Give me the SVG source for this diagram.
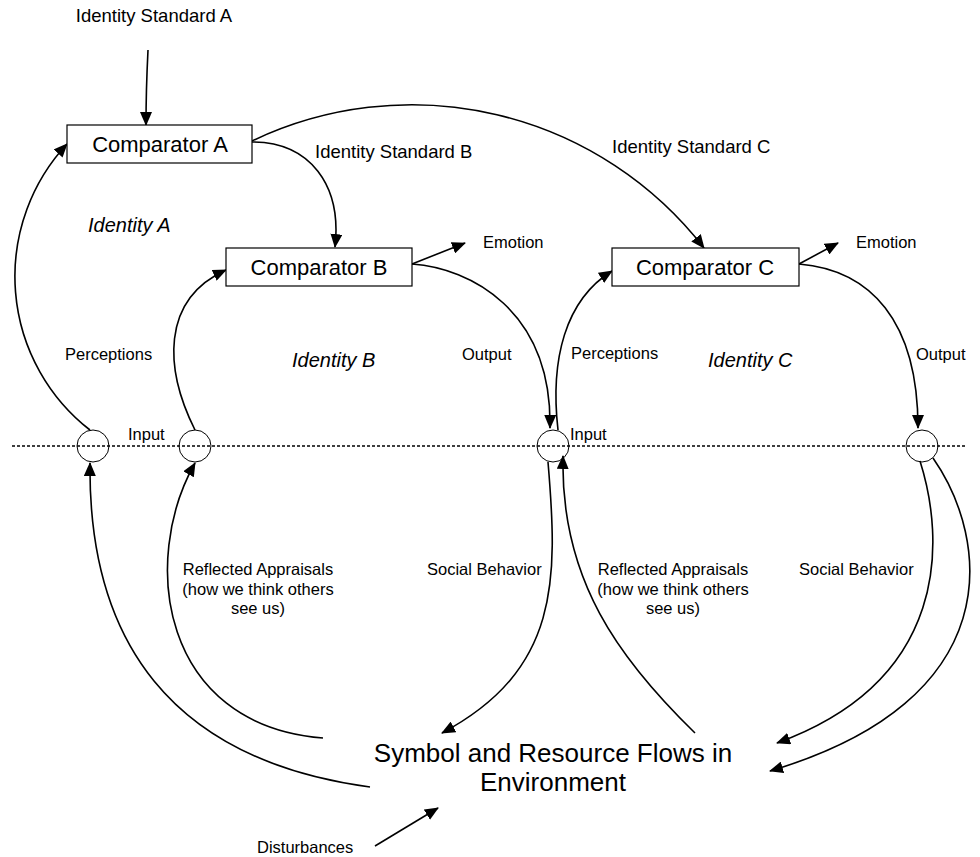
<svg xmlns="http://www.w3.org/2000/svg" width="980" height="857" viewBox="0 0 980 857">
<style>
text{font-family:"Liberation Sans",Arial,sans-serif;fill:#000}
.lbl{font-size:16.5px}
.std{font-size:18.5px}
.cmp{font-size:22px}
.idt{font-size:20px;font-style:italic}
.env{font-size:26px}
.box{fill:#fff;stroke:#000;stroke-width:1.2}
.node{fill:none;stroke:#000;stroke-width:1}
.c{fill:none;stroke:#000;stroke-width:1.6}
.a{marker-end:url(#ah)}
</style>
<defs>
<marker id="ah" viewBox="0 0 14 12" refX="13" refY="6" markerWidth="14" markerHeight="12" orient="auto" markerUnits="userSpaceOnUse">
<path d="M0,0 L14,6 L0,12 z" fill="#000"/>
</marker>
</defs>
<rect width="980" height="857" fill="#fff"/>
<line x1="12" y1="446" x2="967" y2="446" stroke="#000" stroke-width="1.3" stroke-dasharray="3,2"/>
<g id="connectors">
<path class="c a" d="M148,50 Q146,90 146,125"/>
<path class="c a" d="M252,142 C310,142 342,185 335,247"/>
<path class="c a" d="M252,141 A370,370 0 0 1 704,248"/>
<path class="c a" d="M412,264 L465,243"/>
<path class="c a" d="M799,264 L838,243"/>
<path class="c a" d="M90,430 A194.5,194.5 0 0 1 67,144"/>
<path class="c a" d="M195,430 C165,370 160,300 226,270"/>
<path class="c a" d="M412,264 C470,268 552,310 550,428"/>
<path class="c a" d="M558,430 C550,360 565,300 612,271"/>
<path class="c a" d="M799,264 C870,270 918,320 918,428"/>
<path class="c a" d="M548,462 C558,580 560,670 442,733"/>
<path class="c a" d="M695,733 C620,660 560,580 563,456"/>
<path class="c a" d="M370,787 C170,760 88,640 90,463"/>
<path class="c a" d="M323,738 C160,725 140,560 195,463"/>
<path class="c a" d="M920,461 C945,540 950,680 777,743"/>
<path class="c a" d="M933,458 C990,540 1010,700 770,771"/>
<path class="c a" d="M375,846 L438,808"/>
</g>
<g id="comparatorA"><rect class="box" x="67" y="125" width="185" height="38"/><text class="cmp" x="160" y="152" text-anchor="middle">Comparator A</text></g>
<g id="comparatorB"><rect class="box" x="226" y="248" width="186" height="38"/><text class="cmp" x="319" y="275" text-anchor="middle">Comparator B</text></g>
<g id="comparatorC"><rect class="box" x="612" y="248" width="187" height="38"/><text class="cmp" x="705" y="275" text-anchor="middle">Comparator C</text></g>
<g id="inputA"><circle class="node" cx="93" cy="446" r="16"/></g>
<g id="inputB"><circle class="node" cx="195" cy="446" r="16"/></g>
<g id="inputC"><circle class="node" cx="553" cy="446" r="16"/></g>
<g id="outputC"><circle class="node" cx="922" cy="446" r="16"/></g>
<g id="environment"><text class="env" x="553" y="762" text-anchor="middle">Symbol and Resource Flows in</text><text class="env" x="553" y="791" text-anchor="middle">Environment</text></g>
<g id="labels">
<text class="std" x="154" y="22" text-anchor="middle">Identity Standard A</text>
<text class="std" x="315" y="158">Identity Standard B</text>
<text class="std" x="612" y="153">Identity Standard C</text>
<text class="idt" x="88" y="232">Identity A</text>
<text class="idt" x="292" y="367">Identity B</text>
<text class="idt" x="708" y="367">Identity C</text>
<text class="lbl" x="483" y="248">Emotion</text>
<text class="lbl" x="856" y="248">Emotion</text>
<text class="lbl" x="65" y="360">Perceptions</text>
<text class="lbl" x="571" y="359">Perceptions</text>
<text class="lbl" x="462" y="360">Output</text>
<text class="lbl" x="916" y="360">Output</text>
<text class="lbl" x="128" y="440">Input</text>
<text class="lbl" x="570" y="440">Input</text>
<text class="lbl" x="427" y="575">Social Behavior</text>
<text class="lbl" x="799" y="575">Social Behavior</text>
<text class="lbl" text-anchor="middle"><tspan x="258" y="575">Reflected Appraisals</tspan><tspan x="258" y="595">(how we think others</tspan><tspan x="258" y="614">see us)</tspan></text>
<text class="lbl" text-anchor="middle"><tspan x="673" y="575">Reflected Appraisals</tspan><tspan x="673" y="595">(how we think others</tspan><tspan x="673" y="614">see us)</tspan></text>
<text class="lbl" x="257" y="853">Disturbances</text>
</g>
</svg>
